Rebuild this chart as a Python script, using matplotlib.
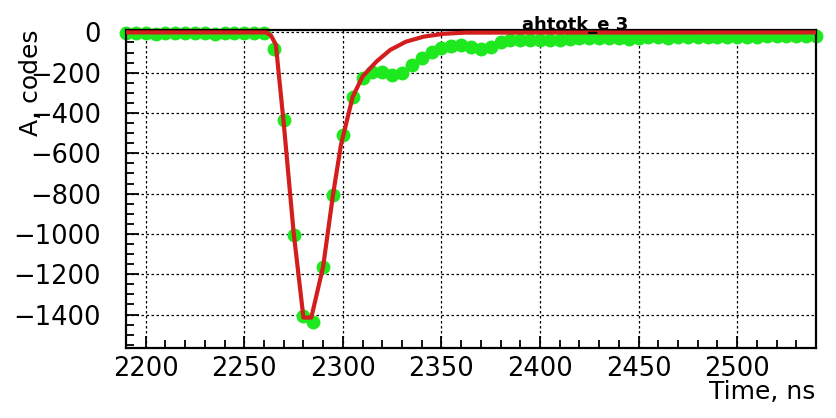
import matplotlib
matplotlib.use("Agg")
import matplotlib.pyplot as plt
from matplotlib.ticker import MultipleLocator

# ---- data ----
t_start = 2190
t_step = 5
amp_codes = [
    -3, -5, -4, -6, -3, -4, -5, -3, -4, -6, -5, -3, -4, -5, -4,          # 2190..2260
    -80, -434, -1005, -1405, -1435, -1162, -806, -509, -319, -227,       # 2265..2310
    -194, -194, -211, -202, -161, -128, -95, -75, -65, -62,              # 2315..2360
    -72, -82, -70, -48, -40, -37, -36, -38, -37, -36,                    # 2365..2410
    -33, -30, -28, -27, -27, -29, -31, -30, -25, -25,                    # 2415..2460
    -26, -25, -25, -24, -23, -23, -22, -22, -21, -21,                    # 2465..2510
    -20, -20, -19, -18, -17, -16,                                        # 2515..2540
]
time_ns = [t_start + t_step * i for i in range(len(amp_codes))]

fit_time = [2190, 2261, 2263.5, 2266, 2270, 2275, 2280, 2284, 2290,
            2295, 2299, 2305, 2310, 2317, 2324, 2332, 2341, 2351, 2362, 2540]
fit_amp = [0, 0, -15, -60, -450, -990, -1415, -1415, -1162,
           -806, -560, -319, -219, -145, -87, -46, -21, -7, -1, 0]

title_text = "ahtotk_e 3"
xlabel = "Time, ns"
ylabel = "A, codes"

# ---- figure ----
W, H = 836, 418
fig = plt.figure(figsize=(W / 100, H / 100), dpi=100)
ax = fig.add_axes([126 / W, 1 - 348 / H, (816 - 126) / W, (348 - 30) / H])

ax.plot(time_ns, amp_codes, "o", color="#1ee81e", markersize=10,
        markeredgewidth=0, zorder=2, clip_on=False)
ax.plot(fit_time, fit_amp, "-", color="#d41e1e", linewidth=3, zorder=3)

ax.set_xlim(2190, 2540)
ax.set_ylim(-1566, 12)

ax.xaxis.set_major_locator(MultipleLocator(50))
ax.xaxis.set_minor_locator(MultipleLocator(10))
ax.yaxis.set_major_locator(MultipleLocator(200))
ax.yaxis.set_minor_locator(MultipleLocator(50))

ax.grid(True, which="major", color="black", linestyle=(0, (2, 2)), linewidth=0.9)
ax.set_axisbelow(True)

for s in ax.spines.values():
    s.set_linewidth(1.6)
    s.set_color("black")

ax.tick_params(axis="both", which="both", direction="in", top=False, right=False,
               labelsize=18.5, width=1.3)
ax.tick_params(axis="both", which="major", length=9)
ax.tick_params(axis="both", which="minor", length=6)
ax.tick_params(axis="y", which="major", pad=18)
ax.tick_params(axis="x", which="major", pad=6)

def fmt(v, pos=None):
    v = int(round(v))
    return ("\u2212" + str(-v)) if v < 0 else str(v)

ax.xaxis.set_major_formatter(plt.FuncFormatter(fmt))
ax.yaxis.set_major_formatter(plt.FuncFormatter(fmt))

fig.text(815 / W, 1 - 392 / H, xlabel, ha="right", va="center", fontsize=18)
fig.text(31 / W, 1 - 30 / H, ylabel, ha="center", va="top", rotation=90, fontsize=18)
fig.text(522 / W, 1 - 30 / H, title_text, ha="left", va="baseline", fontsize=13,
         fontweight="bold")

fig.savefig("out.png", dpi=100)
